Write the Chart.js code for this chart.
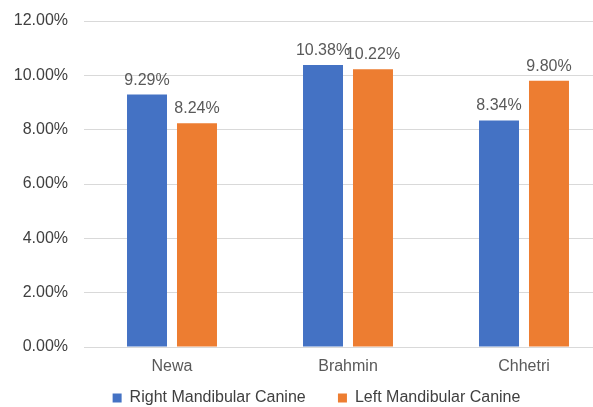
<!DOCTYPE html>
<html>
<head>
<meta charset="utf-8">
<script src="https://cdn.jsdelivr.net/npm/chart.js@4/dist/chart.umd.min.js"></script>
<style>
  html, body { margin: 0; padding: 0; background: #fff; overflow: hidden; }
  #wrap { width: 633px; height: 407px; }
</style>
</head>
<body>
<div id="wrap"><canvas id="chart" width="633" height="407"></canvas></div>
<script>
// Canine measurements by group (percent)
const categories = ['Newa', 'Brahmin', 'Chhetri'];
const rightCanine = [9.29, 10.38, 8.34];
const leftCanine = [8.24, 10.22, 9.80];
const seriesNames = ['Right Mandibular Canine', 'Left Mandibular Canine'];
const yMax = 12;
const yStep = 2;

const FONT = "'Liberation Sans', Arial, sans-serif";

// Writes each bar's value above it
const valueLabels = {
  id: 'valueLabels',
  afterDatasetsDraw(chart) {
    const ctx = chart.ctx;
    ctx.save();
    ctx.font = '16px ' + FONT;
    ctx.fillStyle = '#595959';
    ctx.textAlign = 'center';
    ctx.textBaseline = 'alphabetic';
    chart.data.datasets.forEach((ds, di) => {
      chart.getDatasetMeta(di).data.forEach((bar, i) => {
        ctx.fillText(ds.data[i].toFixed(2) + '%', bar.x, bar.y - 10);
      });
    });
    ctx.restore();
  }
};

new Chart(document.getElementById('chart'), {
  type: 'bar',
  data: {
    labels: categories,
    datasets: [
      { label: seriesNames[0], data: rightCanine, backgroundColor: '#4472C4' },
      { label: seriesNames[1], data: leftCanine, backgroundColor: '#ED7D31' }
    ]
  },
  options: {
    responsive: false,
    devicePixelRatio: 1,
    animation: false,
    layout: { padding: { top: 21, left: 0, right: 0, bottom: 0 } },
    datasets: { bar: { barPercentage: 0.8, categoryPercentage: 0.568 } },
    plugins: {
      tooltip: { enabled: false },
      legend: {
        position: 'bottom',
        maxHeight: 27,
        labels: {
          boxWidth: 9,
          boxHeight: 9,
          padding: 10,
          color: '#404040',
          font: { family: FONT, size: 16 },
          // extra room after the first entry separates the two keys
          generateLabels(chart) {
            const items = Chart.defaults.plugins.legend.labels.generateLabels(chart);
            if (items.length) items[0].text += '     ';
            return items;
          }
        }
      }
    },
    scales: {
      x: {
        grid: { display: false, drawTicks: false },
        border: { display: false },
        ticks: { color: '#595959', padding: 10, font: { family: FONT, size: 16 } },
        afterFit(scale) { scale.height = 33; }
      },
      y: {
        min: 0,
        max: yMax,
        grid: { color: '#d9d9d9', tickLength: 16, tickColor: 'rgba(0,0,0,0)' },
        border: { display: false },
        ticks: {
          stepSize: yStep,
          padding: 0,
          color: '#404040',
          font: { family: FONT, size: 16 },
          callback: v => v.toFixed(2) + '%'
        },
        afterFit(scale) { scale.width = 84; }
      },
      // empty margin axis on the right side of the plot
      yRight: {
        position: 'right',
        grid: { display: false },
        border: { display: false },
        ticks: { display: false },
        afterFit(scale) { scale.width = 21; }
      }
    }
  },
  plugins: [valueLabels]
});
</script>
</body>
</html>
